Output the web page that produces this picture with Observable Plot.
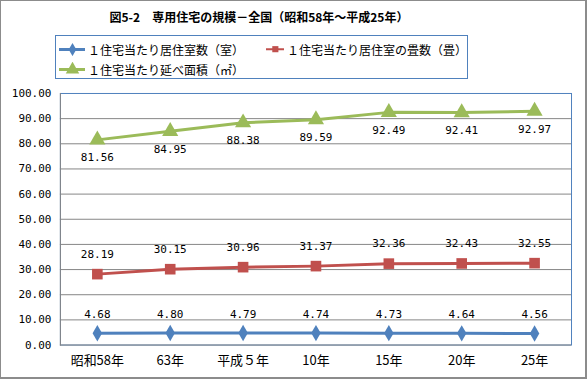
<!DOCTYPE html>
<html><head><meta charset="utf-8">
<script src="https://cdn.jsdelivr.net/npm/d3@7"></script>
<script src="https://cdn.jsdelivr.net/npm/@observablehq/plot@0.6"></script>
<style>
html,body{margin:0;padding:0;background:#fff;}
#wrap{position:relative;width:587px;height:379px;box-sizing:border-box;border:1px solid #8c8c8c;border-right-width:2px;border-bottom-width:2px;overflow:hidden;font-family:"Noto Sans CJK JP",sans-serif;}
#title{position:absolute;left:0;width:516px;top:7px;text-align:center;font-size:12px;font-weight:bold;color:#000;white-space:nowrap;}
#legend{position:absolute;left:54px;top:34px;width:413px;height:44px;box-sizing:border-box;border:1px solid #4F81BD;font-size:12px;color:#000;}
.li{position:absolute;display:flex;align-items:center;height:20px;white-space:nowrap;}
.li svg{margin-right:3px;}
#chart{position:absolute;left:0;top:80px;}
</style></head>
<body>
<div id="wrap">
<div id="title">図5-2　専用住宅の規模－全国（昭和58年～平成25年）</div>
<div id="legend"></div>
<div id="chart"></div>
</div>
<script>
const categories = ["昭和58年","63年","平成５年","10年","15年","20年","25年"];
const rooms = [4.68,4.80,4.79,4.74,4.73,4.64,4.56];
const tatami = [28.19,30.15,30.96,31.37,32.36,32.43,32.55];
const area = [81.56,84.95,88.38,89.59,92.49,92.41,92.97];
const seriesNames = ["１住宅当たり居住室数（室）","１住宅当たり居住室の畳数（畳）","１住宅当たり延べ面積（㎡）"];
const colors = ["#4F81BD","#C0504D","#9BBB59"];
const symbols = ["diamond","square","triangle"];
const yTicks = [0,10,20,30,40,50,60,70,80,90,100];

const rows = [];
[rooms,tatami,area].forEach((arr,si)=>arr.forEach((v,i)=>rows.push({cat:categories[i],v,s:seriesNames[si]})));

const labelDy = [-19,-20,18];
const numFont = "'DejaVu Sans Mono', monospace";

const marks = [
  Plot.ruleY(yTicks.filter(d=>d>0&&d<100), {stroke:"#868686", strokeWidth:1}),
  Plot.frame({stroke:"#4F81BD"}),
  Plot.frame({anchor:"left", stroke:"#868686"}),
  Plot.ruleY([0], {stroke:"#868686"}),
];
[rooms,tatami,area].forEach((arr,si)=>{
  const data = rows.filter(r=>r.s===seriesNames[si]);
  marks.push(Plot.line(data,{x:"cat",y:"v",stroke:colors[si],strokeWidth:3}));
  marks.push(Plot.dot(data,{x:"cat",y:"v",fill:colors[si],symbol:symbols[si],r:si===0?5:6,stroke:"none"}));
  marks.push(Plot.text(data,{x:"cat",y:"v",text:d=>d.v.toFixed(2),dy:labelDy[si],fontFamily:numFont,fontSize:11,fill:"#000"}));
});
marks.push(Plot.axisY({ticks:yTicks,tickFormat:d=>d.toFixed(2),tickSize:0,tickPadding:9,fontFamily:numFont,fontSize:11,fill:"#000"}));
marks.push(Plot.axisX({tickSize:0,tickPadding:11,fontSize:13,fill:"#000",fontFamily:"'Noto Sans CJK JP', sans-serif"}));

const chart = Plot.plot({
  width:585, height:297,
  marginTop:12, marginBottom:33, marginLeft:59, marginRight:14,
  x:{type:"point",domain:categories,padding:0.5,label:null},
  y:{domain:[0,100],label:null},
  style:{background:"transparent",overflow:"visible"},
  marks
});
document.getElementById("chart").appendChild(chart);

// legend
const leg = document.getElementById("legend");
const pos = [[3,3],[210,3],[3,23]];
seriesNames.forEach((n,i)=>{
  const d=document.createElement("div");
  d.className="li";
  d.style.left=pos[i][0]+"px"; d.style.top=pos[i][1]+"px";
  const sym = Plot.plot({width:26,height:14,margin:0,axis:null,x:{domain:[0,1]},y:{domain:[0,1]},
    marks:[Plot.lineY([0.5,0.5],{x:[0,1],stroke:colors[i],strokeWidth:3}),
           Plot.dot([0.5],{x:d=>d,y:0.5,fill:colors[i],symbol:symbols[i],r:i===0?4:5})]});
  d.appendChild(sym);
  const t=document.createElement("span"); t.textContent=n; d.appendChild(t);
  leg.appendChild(d);
});
</script>
</body></html>
